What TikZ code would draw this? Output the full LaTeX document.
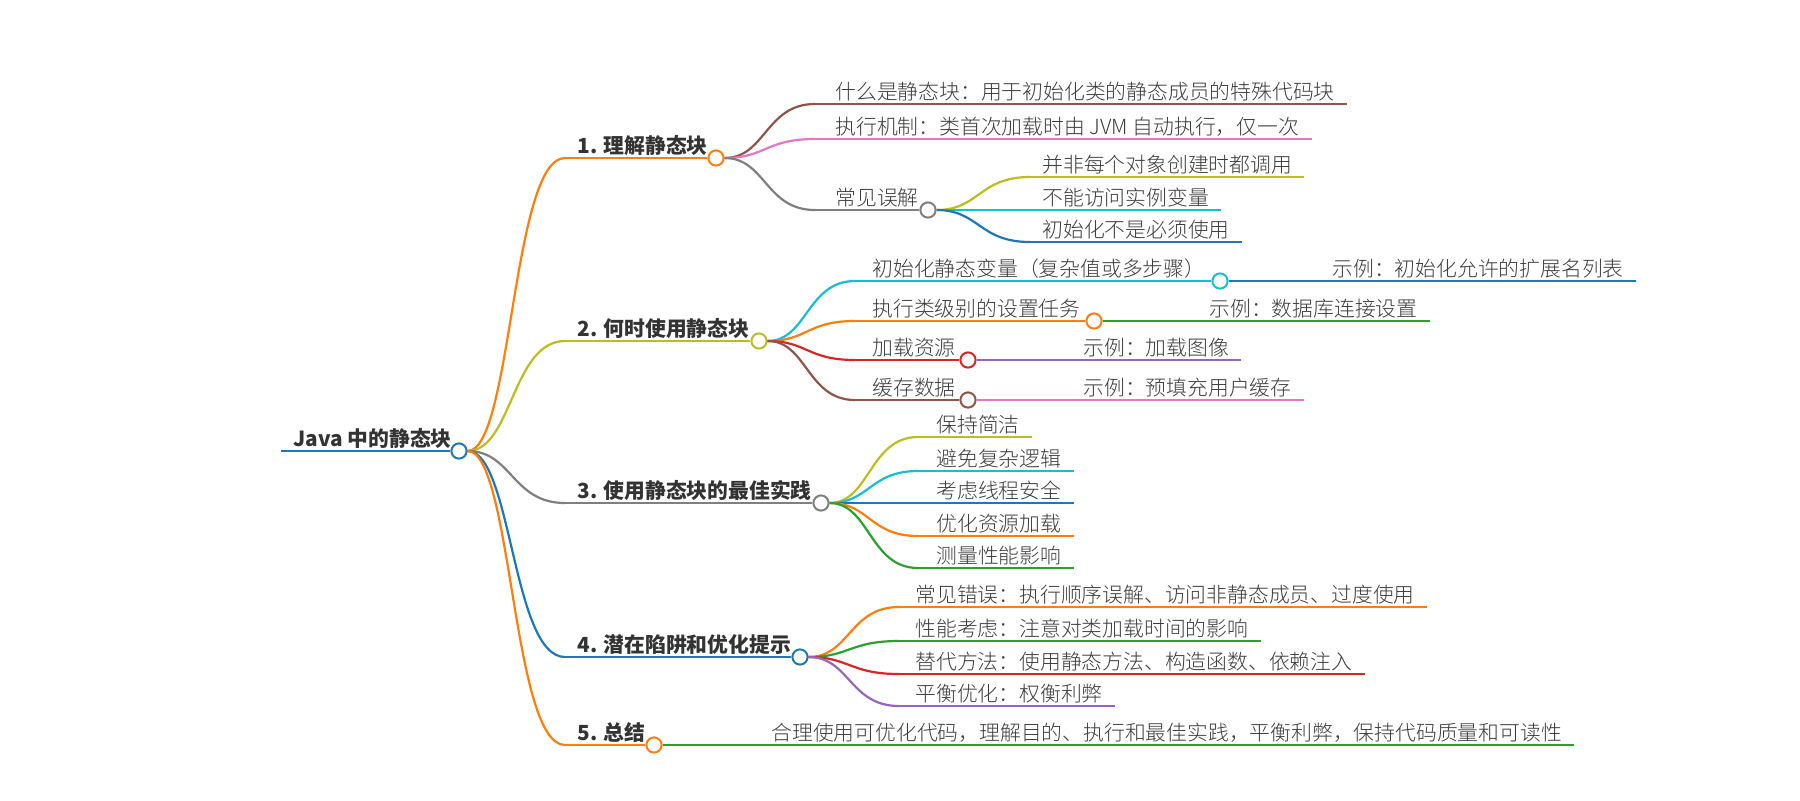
\documentclass[tikz,border=0pt]{standalone}
\usepackage{fontspec}
\setmainfont{Noto Sans CJK SC}
\newfontfamily\mmlight{Noto Sans CJK SC Light}
\usetikzlibrary{calc}
\definecolor{cblue}{HTML}{1F77B4}
\definecolor{corange}{HTML}{FF7F0E}
\definecolor{cgreen}{HTML}{2CA02C}
\definecolor{cred}{HTML}{D62728}
\definecolor{cpurple}{HTML}{9467BD}
\definecolor{cbrown}{HTML}{8C564B}
\definecolor{cpink}{HTML}{E377C2}
\definecolor{cgray}{HTML}{7F7F7F}
\definecolor{colive}{HTML}{BCBD22}
\definecolor{ccyan}{HTML}{17BECF}
\definecolor{txtdark}{HTML}{333333}
\definecolor{txt}{HTML}{3C3C3C}
\newcommand\mmlink[3]{\draw[br,#1] let \p1=(#2), \p2=(#3) in (#2) .. controls ({(\x1+\x2)/2},\y1) and ({(\x1+\x2)/2},\y2) .. (#3);}
% leaf: color, parent, name, hx, tx, y, text
\newcommand\mmleaf[7]{%
  \coordinate (h#3) at (#4,#6);
  \node[tn] (t#3) at (#5,{#6-5}) {#7};
  \coordinate (e#3) at ($(t#3.east |- h#3)+(12,0)$);
  \mmlink{#1}{#2}{h#3}
  \draw[br,#1] (h#3) -- (e#3);}
% mid: color, parent, name, hx, tx, y, circle x, text
\newcommand\mmmid[8]{%
  \coordinate (h#3) at (#4,#6);
  \node[dot,draw=#1] (#3) at (#7,#6) {};
  \node[tn] (t#3) at (#5,{#6-5}) {#8};
  \mmlink{#1}{#2}{h#3}
  \draw[br,#1] (h#3) -- (#3);}
% top: color, name, y, circle x, text
\newcommand\mmtop[5]{%
  \coordinate (h#2) at (565,#3);
  \node[dot,draw=#1] (#2) at (#4,#3) {};
  \node[tb] (t#2) at (577,{#3-5}) {#5};
  \mmlink{#1}{r}{h#2}
  \draw[br,#1] (h#2) -- (#2);}
\begin{document}
\begin{tikzpicture}[x=0.5pt,y=-0.5pt,
  br/.style={line width=1.1pt},
  dot/.style={circle,draw,fill=white,minimum size=7.6pt,inner sep=0pt,line width=1pt},
  tb/.style={anchor=base west,inner sep=0pt,text=txtdark,font=\fontsize{10.4pt}{12pt}\selectfont\bfseries},
  tn/.style={anchor=base west,inner sep=0pt,text=txt,font=\fontsize{10.4pt}{12pt}\selectfont\mmlight}]
\useasboundingbox[fill=white] (0,0) rectangle (1800,800);
% root
\node[dot,draw=cblue] (r) at (459,451) {};
\coordinate (r0) at (281,451);
\node[tb] (rt) at (293,446) {Java 中的静态块};
\draw[br,cblue] (r0) -- (r);
% level 1
\mmtop{corange}{n1}{158}{716}{1. 理解静态块}
\mmtop{colive}{n2}{341}{759}{2. 何时使用静态块}
\mmtop{cgray}{n3}{503}{821}{3. 使用静态块的最佳实践}
\mmtop{cblue}{n4}{657}{800}{4. 潜在陷阱和优化提示}
\mmtop{corange}{n5}{745}{654}{5. 总结}
% branch 1
\mmleaf{cbrown}{n1}{a1}{815}{835}{104}{什么是静态块：用于初始化类的静态成员的特殊代码块}
\mmleaf{cpink}{n1}{a2}{815}{835}{139}{执行机制：类首次加载时由 JVM 自动执行，仅一次}
\mmmid{cgray}{n1}{a3}{815}{835}{210}{928}{常见误解}
\mmleaf{colive}{a3}{b1}{1030}{1042}{177}{并非每个对象创建时都调用}
\mmleaf{ccyan}{a3}{b2}{1030}{1042}{210}{不能访问实例变量}
\mmleaf{cblue}{a3}{b3}{1030}{1042}{242}{初始化不是必须使用}
% branch 2
\mmmid{ccyan}{n2}{c1}{855}{872}{281}{1220}{初始化静态变量（复杂值或多步骤）}
\mmmid{corange}{n2}{c2}{855}{872}{321}{1094}{执行类级别的设置任务}
\mmmid{cred}{n2}{c3}{855}{872}{360}{968}{加载资源}
\mmmid{cbrown}{n2}{c4}{855}{872}{400}{968}{缓存数据}
\mmleaf{cblue}{c1}{d1}{1320}{1332}{281}{示例：初始化允许的扩展名列表}
\mmleaf{cgreen}{c2}{d2}{1197}{1209}{321}{示例：数据库连接设置}
\mmleaf{cpurple}{c3}{d3}{1071}{1083}{360}{示例：加载图像}
\mmleaf{cpink}{c4}{d4}{1071}{1083}{400}{示例：预填充用户缓存}
% branch 3
\mmleaf{colive}{n3}{f1}{918}{936}{437}{保持简洁}
\mmleaf{ccyan}{n3}{f2}{918}{936}{471}{避免复杂逻辑}
\mmleaf{cblue}{n3}{f3}{918}{936}{503}{考虑线程安全}
\mmleaf{corange}{n3}{f4}{918}{936}{536}{优化资源加载}
\mmleaf{cgreen}{n3}{f5}{918}{936}{568}{测量性能影响}
% branch 4
\mmleaf{corange}{n4}{g1}{899}{915}{607}{常见错误：执行顺序误解、访问非静态成员、过度使用}
\mmleaf{cgreen}{n4}{g2}{899}{915}{641}{性能考虑：注意对类加载时间的影响}
\mmleaf{cred}{n4}{g3}{899}{915}{674}{替代方法：使用静态方法、构造函数、依赖注入}
\mmleaf{cpurple}{n4}{g4}{899}{915}{706}{平衡优化：权衡利弊}
% branch 5
\mmleaf{cgreen}{n5}{k1}{760}{771}{745}{合理使用可优化代码，理解目的、执行和最佳实践，平衡利弊，保持代码质量和可读性}
\end{tikzpicture}
\end{document}
